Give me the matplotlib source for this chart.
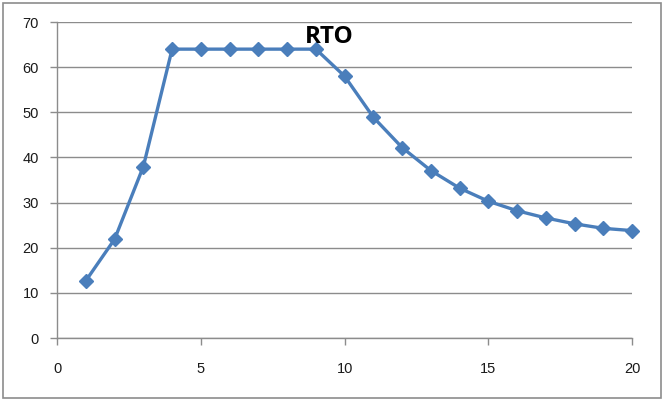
import matplotlib
matplotlib.use("Agg")
import matplotlib.pyplot as plt
from matplotlib.patches import Rectangle

# RTO values per step
steps = list(range(1, 21))
rto = [12.7, 21.9, 38.0, 64, 64, 64, 64, 64, 64, 58.0,
       48.9, 42.2, 37.1, 33.2, 30.3, 28.2, 26.6, 25.3, 24.3, 23.8]
x_ticks = [0, 5, 10, 15, 20]
y_ticks = [0, 10, 20, 30, 40, 50, 60, 70]

fig = plt.figure(figsize=(6.64, 4.01), dpi=100)
ax = fig.add_axes([0.086, 0.157, 0.866, 0.788])

# outer chart border
fig.patches.append(Rectangle((0.004, 0.007), 0.992, 0.986, transform=fig.transFigure,
                             fill=False, edgecolor='#8c8c8c', linewidth=1.2))

ax.plot(steps, rto, color='#4a7ebb', linewidth=2.4, marker='D',
        markersize=7, markerfacecolor='#4a7ebb', markeredgecolor='#4a7ebb',
        zorder=3, clip_on=False)

ax.set_xlim(0, 20)
ax.set_ylim(0, 70)
ax.set_xticks(x_ticks)
ax.set_yticks(y_ticks)
ax.grid(axis='y', color='#8c8c8c', linewidth=1.0)
ax.set_axisbelow(True)

for s in ['top', 'right']:
    ax.spines[s].set_visible(False)
for s in ['left', 'bottom']:
    ax.spines[s].set_color('#8c8c8c')
    ax.spines[s].set_linewidth(1.0)

ax.tick_params(axis='both', colors='#8c8c8c', length=5, width=1.0,
               labelcolor='#1a1a1a', labelsize=10.5)
ax.tick_params(axis='x', pad=12)
ax.tick_params(axis='y', pad=8)
for lab in ax.get_xticklabels() + ax.get_yticklabels():
    lab.set_family('Liberation Sans')

fig.text(0.496, 0.907, 'RTO', ha='center', va='center', fontsize=17.5,
         fontweight='bold', family='Open Sans', color='black')

fig.savefig('out.png', dpi=100)
